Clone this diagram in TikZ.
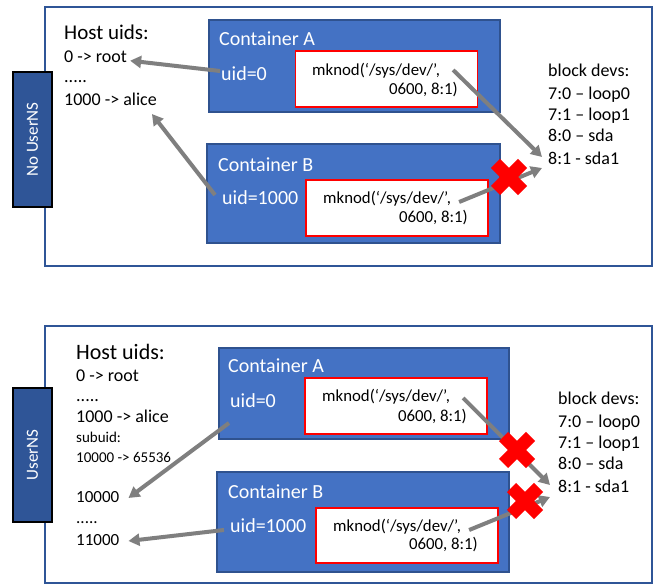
\documentclass[tikz,border=0pt]{standalone}
\usepackage{fontspec}
\setmainfont{Carlito}
\usetikzlibrary{arrows.meta,calc}
\definecolor{frameblue}{HTML}{2F5597}
\definecolor{boxblue}{HTML}{4472C4}
\definecolor{boxedge}{HTML}{2F528F}
\definecolor{tabblue}{HTML}{2F5597}
\definecolor{arrowgray}{HTML}{7F7F7F}
\tikzset{
  panel/.style={draw=frameblue,line width=2.2pt,fill=white,inner sep=0pt,minimum width=607pt},
  nstab/.style={draw=black,line width=1.2pt,fill=tabblue,inner sep=0pt,minimum width=39pt,
    text=white,font=\fontsize{17}{20}\selectfont},
  container/.style={draw=boxedge,line width=1.5pt,fill=boxblue,inner sep=0pt},
  callbox/.style={draw=red,line width=1.5pt,fill=white,inner sep=0pt,minimum width=182pt,minimum height=56pt},
  lbl/.style={inner sep=0pt,anchor=base west,font=\fontsize{18}{20}\selectfont},
  hdr/.style={lbl,font=\fontsize{21}{24}\selectfont},
  small/.style={lbl,font=\fontsize{15}{18}\selectfont},
  ctitle/.style={lbl,text=white,font=\fontsize{20}{22}\selectfont},
  calltxt/.style={inner sep=0pt,font=\fontsize{16.8}{18}\selectfont},
  arr/.style={draw=arrowgray,line width=4pt,-{Triangle[length=11pt,width=12pt]}},
  xmark/.pic={\draw[red,line width=13pt] (-13.5,-13.5) -- (13.5,13.5) (-13.5,13.5) -- (13.5,-13.5);}
}
\begin{document}
\begin{tikzpicture}[x=1pt,y=-1pt]
\useasboundingbox (0,0) rectangle (657,585);

% ---------- upper panel: no user namespace ----------
\node[panel,minimum height=259pt] (frame1) at (348.5,136.5) {};
\node[nstab,minimum height=135pt] (tab1) at (32.5,139.5) {\rotatebox{90}{No UserNS}};
\node[container,minimum width=291pt,minimum height=92pt] (contA1) at (354.5,66) {};
\node[callbox] (callA1) at (386.5,79) {};
\node[container,minimum width=293pt,minimum height=99pt] (contB1) at (353.5,193.5) {};
\node[callbox] (callB1) at (397,208) {};

\node[hdr] (host1) at (64,40) {Host uids:};
\node[lbl] (root1) at (64,62.7) {0 -> root};
\node[lbl] (dots1) at (64,83) {.....};
\node[lbl] (alice1) at (64,106) {1000 -> alice};

\node[ctitle] (titleA1) at (219,46) {Container A};
\node[ctitle] (uidA1) at (221,81) {uid=0};
\node[ctitle] (titleB1) at (218,172) {Container B};
\node[ctitle] (uidB1) at (222,205) {uid=1000};

\node[calltxt,anchor=base west] (mkA1a) at (312,76) {mknod(‘/sys/dev/’,};
\node[calltxt,anchor=base east] (mkA1b) at (458,95) {0600, 8:1)};
\node[calltxt,anchor=base west] (mkB1a) at (323,204) {mknod(‘/sys/dev/’,};
\node[calltxt,anchor=base east] (mkB1b) at (468,223) {0600, 8:1)};

\node[lbl] (devs1) at (548,77) {block devs:};
\node[lbl] (loopA1) at (548,100) {7:0 – loop0};
\node[lbl] (loopB1) at (548,121) {7:1 – loop1};
\node[lbl] (sda1) at (548,142) {8:0 – sda};
\node[lbl] (sdaone1) at (548,165) {8:1 - sda1};

\draw[arr] ($(uidA1.base west)+(-1,-10)$) -- ($(root1.base east)+(3,-2)$);
\draw[arr] ($(uidB1.base west)+(-7,-10)$) -- ($(alice1.base east)+(-5,8)$);
\draw[arr] ($(mkA1a.base east)+(13,-6)$) -- ($(sdaone1.base west)+(-6,-8)$);
\draw[arr] ($(mkB1a.base east)+(8,-2)$) -- ($(sdaone1.base west)+(-6,3)$);
\path (509,177) pic {xmark};

% ---------- lower panel: with user namespace ----------
\node[panel,minimum height=257pt] (frame2) at (348.5,454.5) {};
\node[nstab,minimum height=134pt] (tab2) at (32.5,455) {\rotatebox{90}{UserNS}};
\node[container,minimum width=290pt,minimum height=91pt] (contA2) at (364,393.5) {};
\node[callbox] (callA2) at (396,406) {};
\node[container,minimum width=292pt,minimum height=100pt] (contB2) at (363,522) {};
\node[callbox,minimum height=55pt] (callB2) at (407,535.5) {};

\node[hdr,font=\fontsize{22}{24}\selectfont] (host2) at (76,360) {Host uids:};
\node[lbl] (root2) at (76,382) {0 -> root};
\node[lbl] (dots2) at (76,402) {.....};
\node[lbl] (alice2) at (76,423) {1000 -> alice};
\node[small] (subuid2) at (76,443) {subuid:};
\node[small] (range2) at (76,463) {10000 -> 65536};
\node[lbl,font=\fontsize{17}{20}\selectfont] (u10000) at (76,503) {10000};
\node[lbl,font=\fontsize{17}{20}\selectfont] (dots3) at (76,524) {.....};
\node[lbl,font=\fontsize{17}{20}\selectfont] (u11000) at (76,546) {11000};

\node[ctitle] (titleA2) at (228,373) {Container A};
\node[ctitle] (uidA2) at (230,408) {uid=0};
\node[ctitle] (titleB2) at (228,499) {Container B};
\node[ctitle] (uidB2) at (230,533) {uid=1000};

\node[calltxt,anchor=base west] (mkA2a) at (322,402) {mknod(‘/sys/dev/’,};
\node[calltxt,anchor=base east] (mkA2b) at (467,422) {0600, 8:1)};
\node[calltxt,anchor=base west] (mkB2a) at (333,532) {mknod(‘/sys/dev/’,};
\node[calltxt,anchor=base east] (mkB2b) at (478,550) {0600, 8:1)};

\node[lbl] (devs2) at (558,405) {block devs:};
\node[lbl] (loopA2) at (558,428) {7:0 – loop0};
\node[lbl] (loopB2) at (558,449) {7:1 – loop1};
\node[lbl] (sda2) at (558,470) {8:0 – sda};
\node[lbl] (sdaone2) at (558,493) {8:1 - sda1};

\draw[arr] ($(uidA2.base west)+(-1,15)$) -- ($(u10000.base east)+(9,-5)$);
\draw[arr] ($(uidB2.base west)+(-6,-3)$) -- ($(u11000.base east)+(9,-5)$);
\draw[arr] ($(mkA2a.base east)+(13,-4)$) -- ($(sdaone2.base west)+(-8,-8)$);
\draw[arr] ($(mkB2a.base east)+(8,-2)$) -- ($(sdaone2.base west)+(-8,4)$);
\path (517,450) pic {xmark};
\path (525,501) pic {xmark};
\end{tikzpicture}
\end{document}
